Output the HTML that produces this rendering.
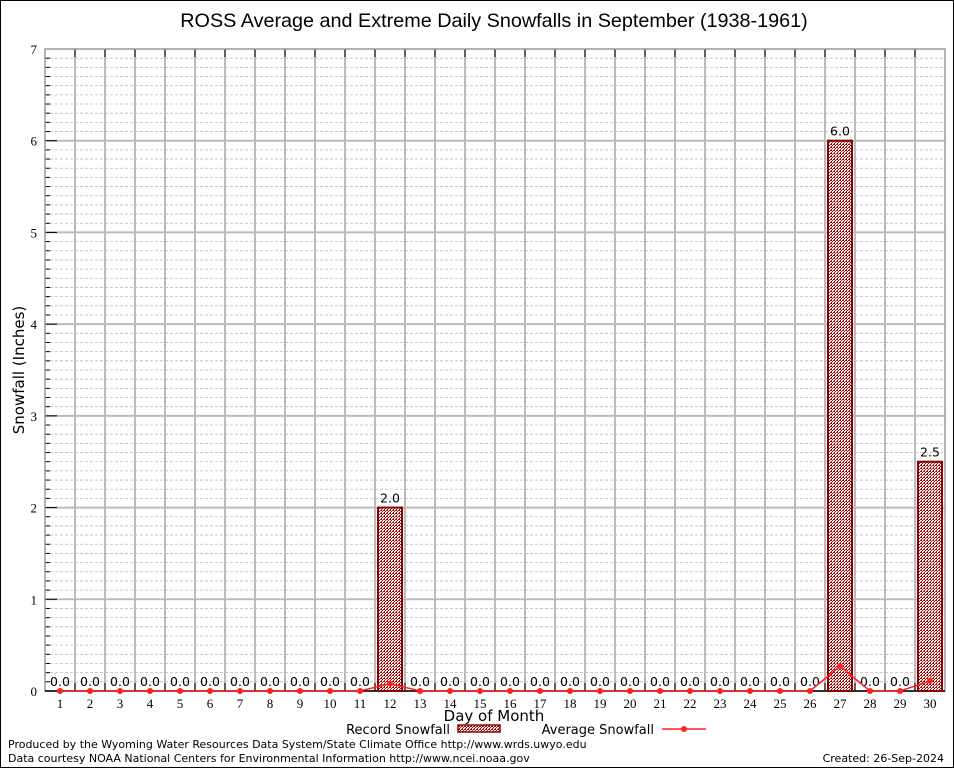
<!DOCTYPE html>
<html><head><meta charset="utf-8"><style>
html,body{margin:0;padding:0;background:#fff;}
#wrap{position:relative;width:954px;height:768px;}
</style></head><body>
<div id="wrap">
<svg id="chart" width="954" height="768" xmlns="http://www.w3.org/2000/svg" font-family="DejaVu Sans, sans-serif">
<defs>
<pattern id="hatch" width="3" height="3" patternUnits="userSpaceOnUse">
<rect width="3" height="3" fill="#fff"/>
<rect x="0" y="0" width="1" height="1" fill="#b00000"/>
<rect x="2" y="0" width="1" height="1" fill="#b00000"/>
<rect x="1" y="1" width="1" height="1" fill="#b00000"/>
<rect x="0" y="2" width="1" height="1" fill="#b00000"/>
</pattern>
</defs>
<rect x="0.5" y="0.5" width="953" height="767" fill="#fff" stroke="#000"/>
<text x="494" y="27" font-size="19.8" text-anchor="middle" font-family="Liberation Sans, sans-serif">ROSS Average and Extreme Daily Snowfalls in September (1938-1961)</text>
<g id="grid"></g>
<g id="bars"></g>
<g id="labels"></g>
<g id="line"></g>
<text transform="translate(24,370) rotate(-90)" font-size="15" text-anchor="middle">Snowfall (Inches)</text>
<text x="494" y="721" font-size="15" text-anchor="middle">Day of Month</text>
<g>
<text x="450" y="734" font-size="13" text-anchor="end">Record Snowfall</text>
<rect x="458" y="725" width="42" height="7" fill="url(#hatch)" stroke="#8b0000" stroke-width="1.5"/>
<text x="654" y="734" font-size="13" text-anchor="end">Average Snowfall</text>
<line x1="662" y1="729" x2="706" y2="729" stroke="#ff2020" stroke-width="1.5"/>
<circle cx="684" cy="729" r="3" fill="#ff2020"/>
</g>
<text x="8" y="748" font-size="11">Produced by the Wyoming Water Resources Data System/State Climate Office http://www.wrds.uwyo.edu</text>
<text x="8" y="762" font-size="11">Data courtesy NOAA National Centers for Environmental Information http://www.ncei.noaa.gov</text>
<text x="944" y="762" font-size="11" text-anchor="end">Created: 26-Sep-2024</text>
</svg>
</div>
<script>
const days = [1,2,3,4,5,6,7,8,9,10,11,12,13,14,15,16,17,18,19,20,21,22,23,24,25,26,27,28,29,30];
const recordSnow = [0,0,0,0,0,0,0,0,0,0,0,2.0,0,0,0,0,0,0,0,0,0,0,0,0,0,0,6.0,0,0,2.5];
const avgSnow = [0,0,0,0,0,0,0,0,0,0,0,0.08,0,0,0,0,0,0,0,0,0,0,0,0,0,0,0.27,0,0,0.11];
const yTicks = [0,1,2,3,4,5,6,7];

const L=45,R=945,T=49,B=691,YMAX=7;
const NS="http://www.w3.org/2000/svg";
const dayW=(R-L)/days.length;
function xS(d){return L+(d-0.5)*dayW;}
function yS(v){return B-(v/YMAX)*(B-T);}
function mk(tag,attrs,parent){const e=document.createElementNS(NS,tag);for(const k in attrs)e.setAttribute(k,attrs[k]);parent.appendChild(e);return e;}

const grid=document.getElementById('grid');
for(let i=1;i<YMAX*10;i++){
  if(i%10===0)continue;
  const y=yS(i/10);
  const l=mk('line',{x1:L,x2:R,y1:y,y2:y,stroke:'#bbb','stroke-dasharray':'3,2','stroke-width':0.8},grid);
  
  
  mk('line',{x1:L,x2:L+5,y1:y,y2:y,stroke:'#000'},grid);
}
yTicks.forEach(v=>{
  const y=yS(v);
  if(v>0&&v<YMAX){const l=mk('line',{x1:L,x2:R,y1:y,y2:y,stroke:'#bbb','stroke-width':2},grid);
  
  }
  mk('line',{x1:L,x2:L+12,y1:y,y2:y,stroke:'#000'},grid);
  const t=mk('text',{x:L-8,y:y+5,'font-size':13,'text-anchor':'end','font-family':'Liberation Serif, serif'},grid);
  t.textContent=v;
  
  
});
for(let i=1;i<days.length;i++){
  const x=L+i*dayW;
  const l=mk('line',{x1:x,x2:x,y1:T,y2:B,stroke:'#bbb','stroke-width':2},grid);
  
  
  mk('line',{x1:x,x2:x,y1:T,y2:T+8,stroke:'#000'},grid);
  mk('line',{x1:x,x2:x,y1:B,y2:B-8,stroke:'#000'},grid);
}
const frame=mk('rect',{x:L,y:T,width:R-L,height:B-T,fill:'none',stroke:'#999','stroke-width':1.5},grid);


const xa=mk('line',{x1:L,x2:R,y1:B,y2:B,stroke:'#000','stroke-width':1.5},grid);


days.forEach(d=>{
  const t=mk('text',{x:xS(d),y:B+17,'font-size':13,'text-anchor':'middle','font-family':'Liberation Serif, serif'},grid);
  t.textContent=d;
  
  
});

const bars=document.getElementById('bars'),labels=document.getElementById('labels');
days.forEach((d,i)=>{
  const v=recordSnow[i];
  if(v>0){
    const r=mk('rect',{x:xS(d)-12,y:yS(v),width:24,height:B-yS(v),fill:'url(#hatch)',stroke:'#8b0000','stroke-width':2},bars);
    
    
  }
  const t=mk('text',{x:xS(d),y:yS(v)-5,'font-size':12.5,'text-anchor':'middle'},labels);
  t.textContent=v.toFixed(1);
  
  
});

const lineG=document.getElementById('line');
const pts=days.map((d,i)=>xS(d)+','+yS(avgSnow[i])).join(' ');
const pl=mk('polyline',{points:pts,fill:'none',stroke:'#ff2020','stroke-width':1.5},lineG);


days.forEach((d,i)=>{
  const c=mk('circle',{cx:xS(d),cy:yS(avgSnow[i]),r:3,fill:'#ff2020'},lineG);
  
  
});
</script>
</body></html>
